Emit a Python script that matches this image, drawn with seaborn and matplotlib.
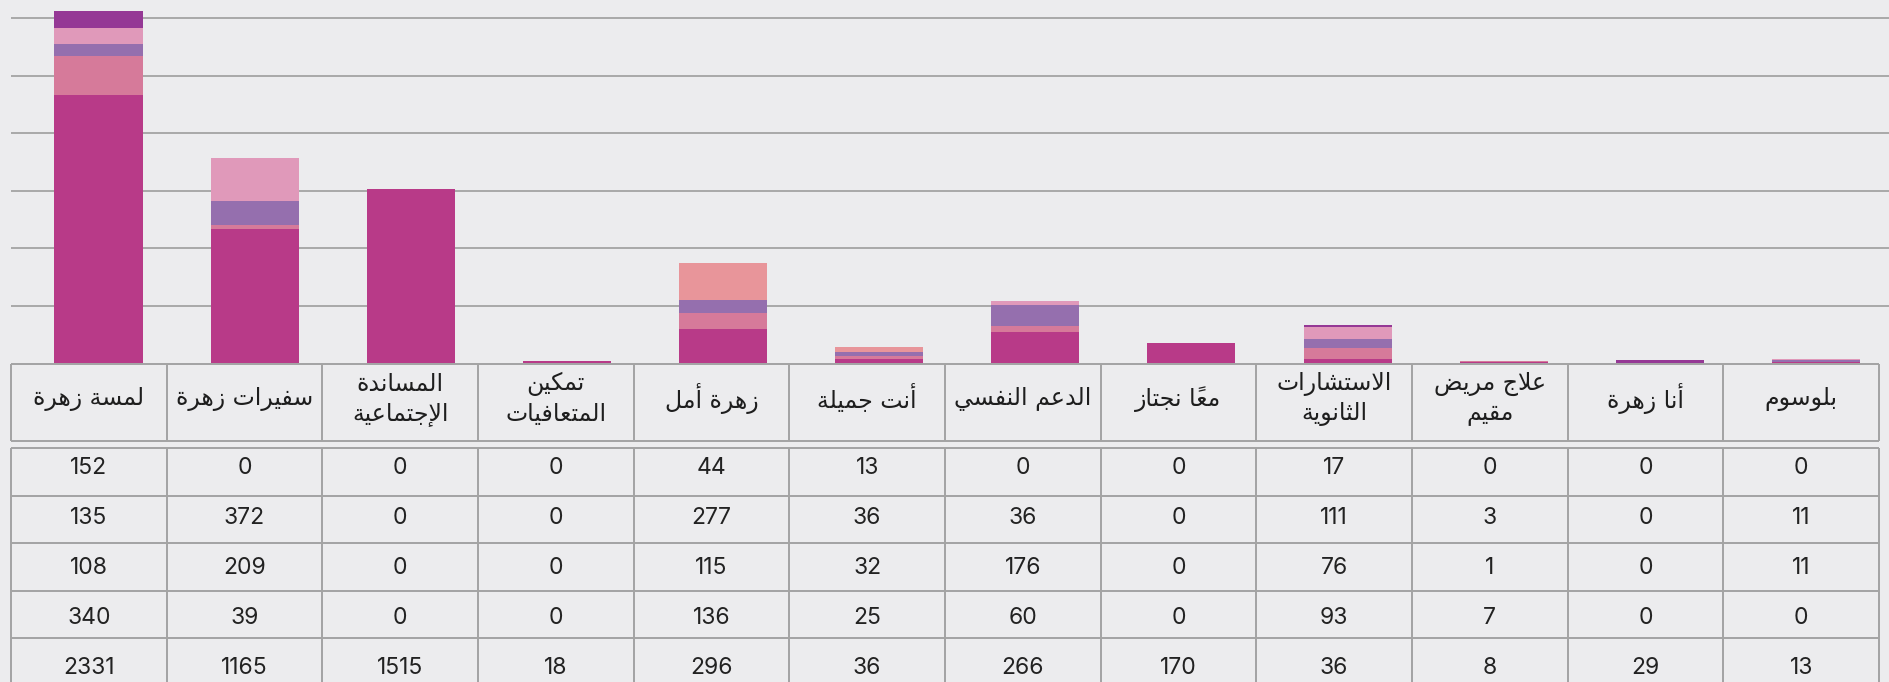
import numpy as np
import pandas as pd
import seaborn as sns
import matplotlib.pyplot as plt

# ---------------- data ----------------
categories = ["لمسة زهرة", "سفيرات زهرة", "المساندة\nالإجتماعية", "تمكين\nالمتعافيات",
              "زهرة أمل", "أنت جميلة", "الدعم النفسي", "معاً نجتاز",
              "الاستشارات\nالثانوية", "علاج مريض\nمقيم", "أنا زهرة", "بلوسوم"]
row1 = [152, 0, 0, 0, 44, 13, 0, 0, 17, 0, 0, 0]
row2 = [135, 372, 0, 0, 277, 36, 36, 0, 111, 3, 0, 11]
row3 = [108, 209, 0, 0, 115, 32, 176, 0, 76, 1, 0, 11]
row4 = [340, 39, 0, 0, 136, 25, 60, 0, 93, 7, 0, 0]
row5 = [2331, 1165, 1515, 18, 296, 36, 266, 170, 36, 8, 29, 13]
series = [row1, row2, row3, row4, row5]

series_colors = ["#953895", "#E099BA", "#956FAE", "#D67A9A", "#B83A88"]
salmon = "#E8959A"
# a few bars in the original use other colours
overrides = {(0, 4): salmon, (1, 4): salmon, (0, 5): salmon, (1, 5): salmon,
             (4, 10): "#953895"}

# --- tiny arabic shaper (matplotlib has no complex text layout) ---
DUAL = {'ئ': 0xFE89, 'ب': 0xFE8F, 'ت': 0xFE95, 'ث': 0xFE99, 'ج': 0xFE9D, 'ح': 0xFEA1,
        'خ': 0xFEA5, 'س': 0xFEB1, 'ش': 0xFEB5, 'ص': 0xFEB9, 'ض': 0xFEBD, 'ط': 0xFEC1,
        'ظ': 0xFEC5, 'ع': 0xFEC9, 'غ': 0xFECD, 'ف': 0xFED1, 'ق': 0xFED5, 'ك': 0xFED9,
        'ل': 0xFEDD, 'م': 0xFEE1, 'ن': 0xFEE5, 'ه': 0xFEE9, 'ي': 0xFEF1}
RIGHT = {'آ': 0xFE81, 'أ': 0xFE83, 'ؤ': 0xFE85, 'إ': 0xFE87, 'ا': 0xFE8D, 'ة': 0xFE93,
         'د': 0xFEA9, 'ذ': 0xFEAB, 'ر': 0xFEAD, 'ز': 0xFEAF, 'و': 0xFEED, 'ى': 0xFEEF}
LAM_ALEF = {'آ': 0xFEF5, 'أ': 0xFEF7, 'إ': 0xFEF9, 'ا': 0xFEFB}


def shape_line(line):
    chars = []
    for ch in line:
        if '\u064B' <= ch <= '\u0652' and chars:
            chars[-1][1] += ch
        else:
            chars.append([ch, ''])
    units = []
    i = 0
    while i < len(chars):
        c, m = chars[i]
        if c == 'ل' and i + 1 < len(chars) and chars[i + 1][0] in LAM_ALEF and not m:
            units.append(['LA' + chars[i + 1][0], chars[i + 1][1]])
            i += 2
        else:
            units.append([c, m])
            i += 1

    def jn(u):
        return u in DUAL

    def jp(u):
        return u in DUAL or u in RIGHT or u.startswith('LA')

    out = []
    for k, (u, m) in enumerate(units):
        prev = units[k - 1][0] if k > 0 else None
        nxt = units[k + 1][0] if k + 1 < len(units) else None
        cp = prev is not None and jn(prev) and jp(u)
        cn = nxt is not None and jn(u) and jp(nxt)
        if u.startswith('LA'):
            g = chr(LAM_ALEF[u[2]] + (1 if cp else 0))
        elif u in DUAL:
            g = chr(DUAL[u] + (3 if cp and cn else 2 if cn else 1 if cp else 0))
        elif u in RIGHT:
            g = chr(RIGHT[u] + (1 if cp else 0))
        else:
            g = u
        out.append(g + m)
    return ''.join(reversed(out))


def ar(text):
    return '\n'.join(shape_line(l) for l in text.split('\n'))


# ---------------- figure ----------------
sns.set_style("white")
plt.rcParams["font.family"] = ["Inter", "DejaVu Sans"]

BG = "#ECECEE"
LINE = "#A3A3A3"
W, H = 1889, 682
fig = plt.figure(figsize=(W / 100, H / 100), dpi=100, facecolor=BG)

ax = fig.add_axes([11 / W, (H - 363) / H, (W - 11) / W, 363 / H])
ax.set_facecolor(BG)

labels_flat = [c.replace("\n", " ") for c in categories]
for k in range(len(series)):
    heights = np.sum(series[k:], axis=0)
    n0 = len(ax.patches)
    sns.barplot(x=labels_flat, y=heights, color=series_colors[k], saturation=1,
                width=0.564, errorbar=None, ax=ax, zorder=2)
    for j, p in enumerate(ax.patches[n0:]):
        p.set_linewidth(0)
        if (k, j) in overrides:
            p.set_facecolor(overrides[(k, j)])

ax.set_xlim(-0.5604, 11.4675)
ax.set_ylim(0, 3160)
ax.set_yticks(range(500, 3001, 500))
ax.yaxis.grid(True, color=LINE, lw=1.3)
ax.xaxis.grid(False)
ax.set_axisbelow(True)
ax.tick_params(left=False, bottom=False, labelleft=False, labelbottom=False)
ax.set_xlabel("")
ax.set_ylabel("")
for s in ax.spines.values():
    s.set_visible(False)

# ---------------- table ----------------
tax = fig.add_axes([11 / W, 0, 1868 / W, (H - 363) / H])
tax.set_xlim(0, 12)
tax.set_ylim(H, 363)
tax.axis("off")

ncol = len(categories)
tax.hlines([364, 441], 0, ncol, color=LINE, lw=1.4, clip_on=False)
tax.vlines(range(ncol + 1), 364, 441, color=LINE, lw=1.4, clip_on=False)
row_lines = [448.3, 495.7, 543.2, 590.6, 638.0]
tax.hlines(row_lines, 0, ncol, color=LINE, lw=1.4, clip_on=False)
tax.vlines(range(ncol + 1), 448.3, H + 5, color=LINE, lw=1.4, clip_on=False)

for i, cat in enumerate(categories):
    tax.text(i + 0.5, 399, ar(cat), ha="center", va="center", fontsize=17,
             family=["DejaVu Sans"], color="#1E1E1E", linespacing=1.3)

for r, vals in enumerate(series):
    for i, v in enumerate(vals):
        tax.text(i + 0.5, 468.5 + 50 * r, str(v), ha="center", va="center",
                 fontsize=16.5, color="#222222")

fig.savefig("out.png", dpi=100, facecolor=BG)
